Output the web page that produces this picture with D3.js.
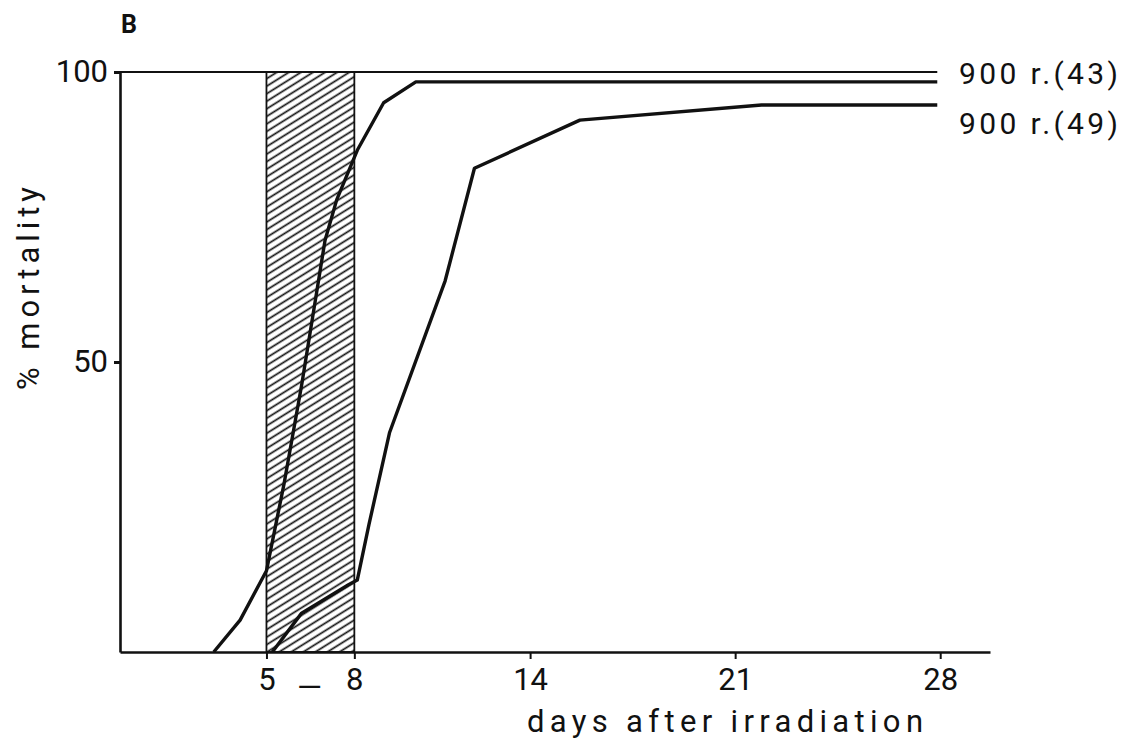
<!DOCTYPE html>
<html lang="en">
    <head>
        <meta charset="utf-8">
        <title>Mortality after irradiation</title>
        <script type="text/javascript" src="https://cdn.jsdelivr.net/npm/d3@7"></script>
        <style>
            body { margin: 0; background: #fff; }
            text { font-family: Roboto, "DejaVu Sans", sans-serif; fill: #111; }
        </style>
    </head>
    <body>

        <script type="text/javascript">
            // Data (days, % mortality)
            var days43 = [3.2, 4.1, 5, 5.6, 6.2, 7, 7.4, 8.1, 9, 10.1, 27.9];
            var mort43 = [0, 5.5, 14, 29, 46, 71, 78, 86.5, 94.7, 98.3, 98.3];
            var days49 = [5.2, 6.2, 7.8, 8.1, 8.5, 9.2, 11.1, 12.1, 15.7, 21.9, 27.9];
            var mort49 = [0, 6.7, 11.6, 12.4, 22, 37.8, 64, 83.4, 91.7, 94.3, 94.3];
            var seriesLabels = ["900 r.(43)", "900 r.(49)"];
            var hatchDays = [5, 8];
            var xTicks = [5, 8, 14, 21, 28];
            var yTicks = [50, 100];

            // Width and height
            var w = 1123;
            var h = 742;

            // Scales
            var xScale = d3.scaleLinear()
                    .domain([0, 29.7])
                    .range([120, 990]);
            var yScale = d3.scaleLinear()
                    .domain([0, 100])
                    .range([652, 72]);

            var svg = d3.select("body")
                        .append("svg")
                        .attr("width", w)
                        .attr("height", h);

            // Hatch pattern for the 5-8 day band
            svg.append("defs")
                .append("pattern")
                .attr("id", "hatch")
                .attr("patternUnits", "userSpaceOnUse")
                .attr("width", 12)
                .attr("height", 6.4)
                .attr("patternTransform", "rotate(-32)")
                .append("line")
                .attr("x1", 0).attr("y1", 3.2)
                .attr("x2", 12).attr("y2", 3.2)
                .attr("stroke", "#111")
                .attr("stroke-width", 1.7);

            svg.append("rect")
                .attr("x", xScale(hatchDays[0]))
                .attr("y", yScale(100))
                .attr("width", xScale(hatchDays[1]) - xScale(hatchDays[0]))
                .attr("height", yScale(0) - yScale(100))
                .attr("fill", "url(#hatch)")
                .attr("stroke", "#111")
                .attr("stroke-width", 1.8);

            // 100 % line
            svg.append("line")
                .attr("x1", xScale(0)).attr("x2", xScale(27.9))
                .attr("y1", yScale(100)).attr("y2", yScale(100))
                .attr("stroke", "#111")
                .attr("stroke-width", 1.8);

            // Curves
            var line = d3.line()
                .x(function(d) { return xScale(d[0]); })
                .y(function(d) { return yScale(d[1]); });

            var curves = [d3.zip(days43, mort43), d3.zip(days49, mort49)];

            svg.selectAll("path.curve")
                .data(curves)
                .enter()
                .append("path")
                .attr("class", "curve")
                .attr("d", line)
                .attr("fill", "none")
                .attr("stroke", "#111")
                .attr("stroke-width", 3.4)
                .attr("stroke-linejoin", "round");

            // Series labels
            svg.append("text")
                .attr("x", 959)
                .attr("y", yScale(100) + 12)
                .attr("font-size", 30)
                .attr("textLength", 159)
                .attr("lengthAdjust", "spacing")
                .text(seriesLabels[0]);
            svg.append("text")
                .attr("x", 959)
                .attr("y", yScale(mort49[mort49.length - 1]) + 29)
                .attr("font-size", 30)
                .attr("textLength", 159)
                .attr("lengthAdjust", "spacing")
                .text(seriesLabels[1]);

            // x axis
            var xAxis = d3.axisBottom(xScale)
                    .tickValues(xTicks)
                    .tickSize(7)
                    .tickPadding(9)
                    .tickSizeOuter(0);
            var gx = svg.append("g")
                .attr("transform", "translate(0," + yScale(0) + ")")
                .call(xAxis);
            gx.select(".domain").attr("stroke", "#111").attr("stroke-width", 2.6);
            gx.selectAll(".tick line").attr("stroke", "#111").attr("stroke-width", 2);
            gx.selectAll(".tick text")
                .attr("font-size", 31)
                .attr("font-family", "Roboto")
                .attr("fill", "#111");

            // dash between 5 and 8
            svg.append("text")
                .attr("x", xScale(6.5) - 1)
                .attr("y", 698)
                .attr("text-anchor", "middle")
                .attr("font-size", 32)
                .text("\u2014");

            // y axis
            var yAxis = d3.axisLeft(yScale)
                    .tickValues(yTicks)
                    .tickSize(6)
                    .tickPadding(6)
                    .tickSizeOuter(0);
            var gy = svg.append("g")
                .attr("transform", "translate(" + xScale(0) + ",0)")
                .call(yAxis);
            gy.select(".domain").attr("stroke", "#111").attr("stroke-width", 2.6);
            gy.selectAll(".tick line").attr("stroke", "#111").attr("stroke-width", 3);
            gy.selectAll(".tick text")
                .attr("font-size", 31)
                .attr("font-family", "Roboto")
                .attr("fill", "#111");

            // Axis titles
            svg.append("text")
                .attr("x", 527)
                .attr("y", 732)
                .attr("font-size", 31)
                .attr("textLength", 396)
                .attr("lengthAdjust", "spacing")
                .text("days after irradiation");

            svg.append("text")
                .attr("transform", "translate(39,390) rotate(-90)")
                .attr("font-size", 31)
                .attr("textLength", 203)
                .attr("lengthAdjust", "spacing")
                .text("% mortality");

            // Panel letter
            svg.append("text")
                .attr("x", 121)
                .attr("y", 33)
                .attr("font-size", 25)
                .attr("font-weight", "bold")
                .text("B");
        </script>
    </body>
</html>
